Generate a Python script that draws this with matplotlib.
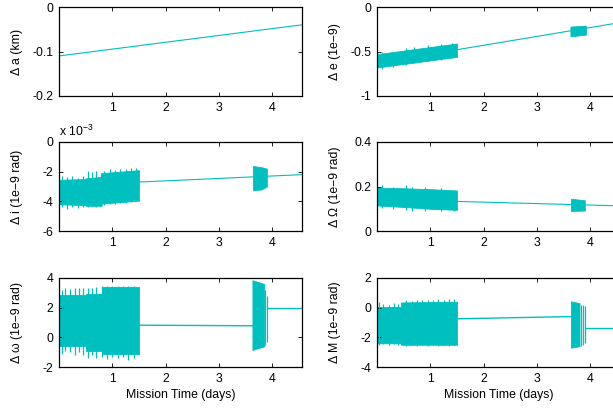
import matplotlib
matplotlib.use('Agg')
import matplotlib.pyplot as plt

plt.rcParams['font.family'] = ['Liberation Sans', 'DejaVu Sans']
plt.rcParams['mathtext.default'] = 'regular'
plt.rcParams['font.size'] = 8.8

col = '#00BFBF'
fs = 8.8

### data (time in days)

# delta a (km): plain straight line
a_t = [0.0, 4.56]
a_val = [-0.110, -0.040]

# delta e (1e-9)
e_band_t = [0.0, 0.5, 1.0, 1.5]
e_band_lo = [-0.68, -0.64, -0.60, -0.56]
e_band_hi = [-0.53, -0.49, -0.45, -0.41]
e_spk_t = [0.1, 0.3, 0.55, 0.7, 0.95, 1.2, 1.4]
e_spk_lo = [-0.70, -0.67, -0.65, -0.63, -0.61, -0.59, -0.57]
e_spk_hi = [-0.51, -0.50, -0.46, -0.45, -0.43, -0.42, -0.40]
e_line_t = [1.5, 4.56]
e_line_val = [-0.48, -0.175]
e_band2_t = [3.63, 3.92]
e_band2_lo = [-0.33, -0.31]
e_band2_hi = [-0.22, -0.21]

# delta i (1e-9 rad, shown x 10^-3)
i_band_t = [0.0, 0.5, 0.5, 0.8, 0.8, 1.5]
i_band_lo = [-4.20, -4.25, -4.30, -4.30, -4.15, -3.95]
i_band_hi = [-2.55, -2.50, -2.45, -2.35, -2.10, -1.90]
i_spk_t = [0.05, 0.15, 0.25, 0.35, 0.45, 0.55, 0.62, 0.70, 0.78, 0.85, 0.95, 1.05, 1.15, 1.25, 1.35, 1.45]
i_spk_hi = [-2.30, -2.35, -2.30, -2.40, -2.30, -1.95, -2.00, -1.95, -2.10, -1.95, -1.85, -1.90, -1.80, -1.85, -1.75, -1.75]
i_spk_lo = [-4.40, -4.50, -4.35, -4.45, -4.40, -4.35, -4.30, -4.35, -4.20, -4.25, -4.15, -4.20, -4.10, -4.10, -4.05, -4.00]
i_line_t = [1.5, 4.56]
i_line_val = [-2.70, -2.20]
i_band2_t = [3.64, 3.80, 3.90]
i_band2_lo = [-3.25, -3.20, -3.00]
i_band2_hi = [-1.62, -1.70, -1.80]

# delta Omega (1e-9 rad)
O_band_t = [0.0, 0.5, 1.0, 1.5]
O_band_lo = [0.115, 0.108, 0.100, 0.095]
O_band_hi = [0.195, 0.192, 0.188, 0.182]
O_spk_t = [0.1, 0.3, 0.55, 0.65, 0.9, 1.2, 1.45]
O_spk_hi = [0.205, 0.200, 0.205, 0.200, 0.198, 0.192, 0.186]
O_spk_lo = [0.105, 0.100, 0.095, 0.090, 0.092, 0.090, 0.088]
O_line_t = [1.5, 4.56]
O_line_val = [0.133, 0.113]
O_band2_t = [3.64, 3.90]
O_band2_lo = [0.090, 0.092]
O_band2_hi = [0.145, 0.138]

# delta omega (1e-9 rad)
w_band_t = [0.0, 0.5, 0.5, 0.8, 0.8, 1.5]
w_band_lo = [-0.60, -0.60, -0.90, -0.90, -1.10, -1.10]
w_band_hi = [2.85, 2.85, 2.90, 2.90, 3.40, 3.40]
w_spk_t = [0.05, 0.12, 0.20, 0.30, 0.38, 0.45, 0.55, 0.62, 0.70, 0.80, 0.90, 1.00, 1.10, 1.20, 1.30, 1.40]
w_spk_hi = [3.20, 3.30, 3.25, 3.30, 3.30, 3.30, 3.35, 3.35, 3.40, 3.45, 3.45, 3.45, 3.45, 3.45, 3.45, 3.45]
w_spk_lo = [-1.10, -0.90, -1.00, -1.20, -1.00, -1.20, -1.40, -1.20, -1.40, -1.30, -1.45, -1.30, -1.40, -1.30, -1.50, -1.40]
w_line_t = [1.5, 3.63]
w_line_val = [0.82, 0.78]
w_band2_t = [3.63, 3.85]
w_band2_lo = [-0.85, -0.60]
w_band2_hi = [3.85, 3.60]
w_spk2_t = [3.87, 3.90]
w_spk2_lo = [-0.50, -0.30]
w_spk2_hi = [3.20, 2.80]
w_line2_t = [3.92, 4.56]
w_line2_val = [2.00, 2.00]

# delta M (1e-9 rad)
M_band_t = [0.0, 0.45, 0.45, 1.5]
M_band_lo = [-2.40, -2.40, -2.50, -2.50]
M_band_hi = [0.05, 0.05, 0.35, 0.40]
M_spk_t = [0.03, 0.12, 0.22, 0.32, 0.40, 0.55, 0.65, 0.75, 0.85, 0.95, 1.05, 1.15, 1.25, 1.35, 1.45]
M_spk_hi = [0.35, 0.25, 0.20, 0.30, 0.25, 0.50, 0.45, 0.55, 0.50, 0.55, 0.50, 0.60, 0.55, 0.60, 0.60]
M_spk_lo = [-2.50, -2.45, -2.55, -2.45, -2.50, -2.60, -2.55, -2.60, -2.55, -2.60, -2.55, -2.60, -2.55, -2.60, -2.55]
M_line_t = [1.5, 3.64]
M_line_val = [-0.75, -0.60]
M_band2_t = [3.64, 3.80]
M_band2_lo = [-2.70, -2.60]
M_band2_hi = [0.43, 0.30]
M_spk2_t = [3.83, 3.86, 3.90]
M_spk2_lo = [-2.60, -2.50, -2.40]
M_spk2_hi = [0.20, 0.15, 0.10]
M_line2_t = [3.92, 4.56]
M_line2_val = [-1.38, -1.38]

ylabels = ['\u0394 a (km)', '\u0394 e (1e\u22129)', '\u0394 i (1e\u22129 rad)',
           '\u0394 \u03a9 (1e\u22129 rad)', '\u0394 \u03c9 (1e\u22129 rad)', '\u0394 M (1e\u22129 rad)']
ylims = [(-0.2, 0), (-1, 0), (-6, 0), (0, 0.4), (-2, 4), (-4, 2)]
yticks = [[-0.2, -0.1, 0], [-1, -0.5, 0], [-6, -4, -2, 0], [0, 0.2, 0.4], [-2, 0, 2, 4], [-4, -2, 0, 2]]

fig = plt.figure(figsize=(6.13, 4.08), dpi=100)
W, H = 613.0, 408.0
lefts = [59, 377]
bottoms = [96, 231, 367]
axes = []
for r in range(3):
    for c in range(2):
        ax = fig.add_axes([lefts[c] / W, 1 - bottoms[r] / H, 243 / W, 89 / H])
        axes.append(ax)


def band(ax, t, lo, hi):
    ax.fill_between(t, lo, hi, color=col, lw=0.6, edgecolor=col)


def spikes(ax, t, lo, hi):
    ax.vlines(t, lo, hi, color=col, lw=0.9)


ax = axes[0]
ax.plot(a_t, a_val, color=col, lw=0.8)

ax = axes[1]
band(ax, e_band_t, e_band_lo, e_band_hi)
spikes(ax, e_spk_t, e_spk_lo, e_spk_hi)
ax.plot(e_line_t, e_line_val, color=col, lw=0.8)
band(ax, e_band2_t, e_band2_lo, e_band2_hi)

ax = axes[2]
band(ax, i_band_t, i_band_lo, i_band_hi)
spikes(ax, i_spk_t, i_spk_lo, i_spk_hi)
ax.plot(i_line_t, i_line_val, color=col, lw=0.8)
band(ax, i_band2_t, i_band2_lo, i_band2_hi)
ax.text(0, 1.03, 'x 10$^{\u22123}$', transform=ax.transAxes, ha='left', va='bottom', fontsize=fs)

ax = axes[3]
band(ax, O_band_t, O_band_lo, O_band_hi)
spikes(ax, O_spk_t, O_spk_lo, O_spk_hi)
ax.plot(O_line_t, O_line_val, color=col, lw=0.8)
band(ax, O_band2_t, O_band2_lo, O_band2_hi)

ax = axes[4]
band(ax, w_band_t, w_band_lo, w_band_hi)
spikes(ax, w_spk_t, w_spk_lo, w_spk_hi)
ax.plot(w_line_t, w_line_val, color=col, lw=1.0)
band(ax, w_band2_t, w_band2_lo, w_band2_hi)
spikes(ax, w_spk2_t, w_spk2_lo, w_spk2_hi)
ax.plot(w_line2_t, w_line2_val, color=col, lw=1.0)

ax = axes[5]
band(ax, M_band_t, M_band_lo, M_band_hi)
spikes(ax, M_spk_t, M_spk_lo, M_spk_hi)
ax.plot(M_line_t, M_line_val, color=col, lw=1.0)
band(ax, M_band2_t, M_band2_lo, M_band2_hi)
spikes(ax, M_spk2_t, M_spk2_lo, M_spk2_hi)
ax.plot(M_line2_t, M_line2_val, color=col, lw=1.0)

for k, ax in enumerate(axes):
    ax.set_xlim(0, 4.56)
    ax.set_ylim(*ylims[k])
    ax.set_xticks([1, 2, 3, 4])
    ax.set_yticks(yticks[k])
    ax.set_yticklabels(['%g' % v for v in yticks[k]])
    ax.tick_params(direction='in', top=True, right=True, length=3, width=0.6, labelsize=fs, pad=4)
    for s in ax.spines.values():
        s.set_linewidth(0.9)
    ax.set_ylabel(ylabels[k], fontsize=fs)
    ax.yaxis.set_label_coords(-0.15, 0.5)
    if k >= 4:
        ax.set_xlabel('Mission Time (days)', fontsize=fs, labelpad=3)

fig.savefig('out.png', dpi=100)
